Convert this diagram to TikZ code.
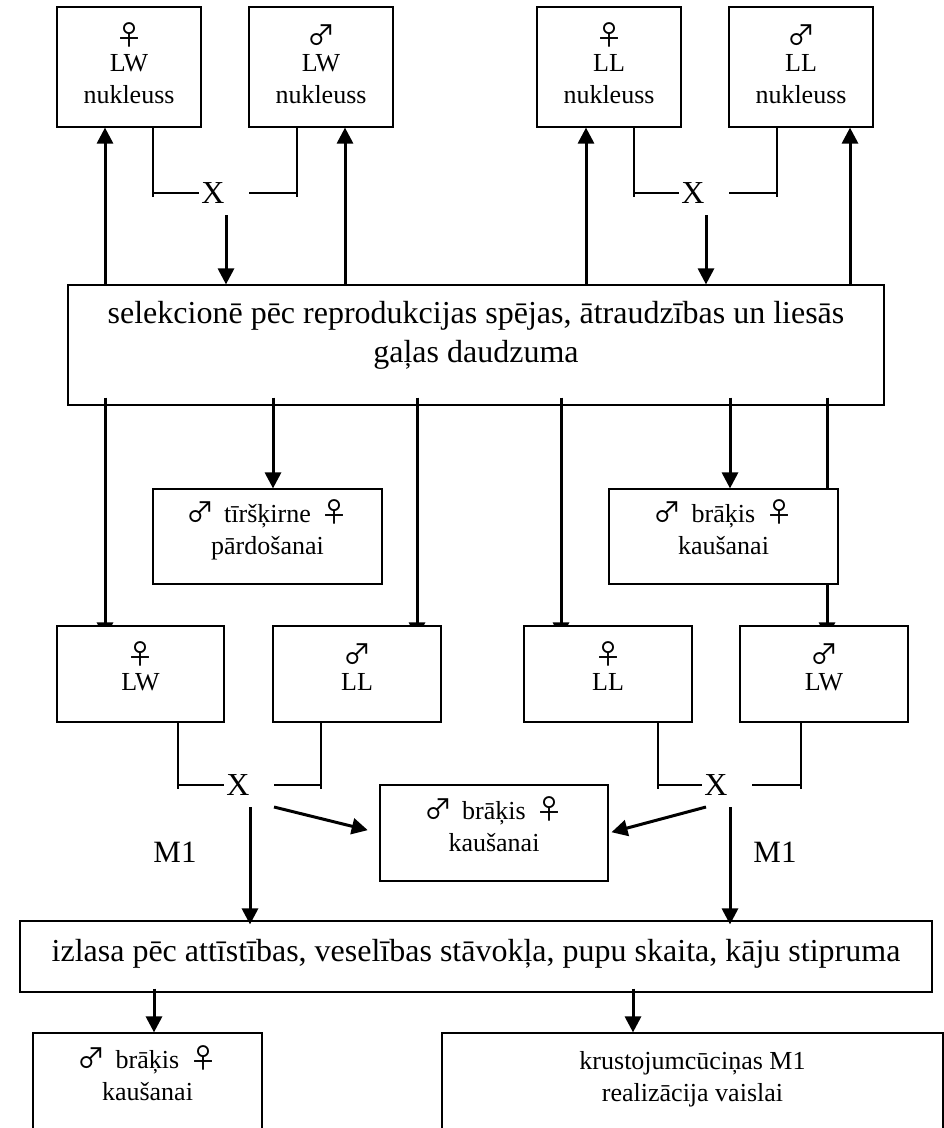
\documentclass[tikz,border=0pt]{standalone}
\usepackage{fontspec}
\setmainfont{Liberation Serif}
\newfontfamily\symfont{Noto Sans CJK SC}
\usetikzlibrary{arrows.meta,backgrounds,calc}

% gender signs and stacked, centred lines of box text
\newcommand{\fem}{{\symfont\fontsize{28}{28}\selectfont ♀}}
\newcommand{\mal}{{\symfont\fontsize{28}{28}\selectfont ♂}}
\newcommand{\femrow}{\raisebox{-6pt}{\fem}}
\newcommand{\malrow}{\raisebox{-6pt}{\mal}}
\newcommand{\gap}{\hspace{10pt}}
\newcommand{\stack}[1]{\begin{tabular}[t]{@{}c@{}}#1\end{tabular}}

\begin{document}
\begin{tikzpicture}[x=1pt,y=-1pt,
  box/.style={draw, line width=1.2pt, fill=white, inner sep=0pt},
  frame/.style={draw, line width=1.2pt, inner sep=0pt},
  wh/.style 2 args={minimum width=#1pt, minimum height=#2pt},
  txt/.style={inner sep=0pt, anchor=base, font=\fontsize{26}{32}\selectfont},
  bigtxt/.style={inner sep=0pt, anchor=base, font=\fontsize{32}{39}\selectfont},
  cross/.style={inner sep=2pt, font=\fontsize{32}{32}\selectfont},
  lbl/.style={inner sep=0pt, font=\fontsize{31}{31}\selectfont},
  link/.style={line width=1.2pt},
  arr/.style={line width=3pt, -{Triangle[length=16pt,width=16pt]}},
]
\path[use as bounding box, clip] (0,0) rectangle (944,1128);

% nucleus herds
\node[box, wh={144}{120}] (fLW) at (129,67) {};
\node[box, wh={144}{120}] (mLW) at (321,67) {};
\node[box, wh={144}{120}] (fLL) at (609,67) {};
\node[box, wh={144}{120}] (mLL) at (801,67) {};
\node[txt] (fLWt) at ($(fLW.north)+(0,33)$) {\stack{\femrow\\LW\\nukleuss}};
\node[txt] (mLWt) at ($(mLW.north)+(0,33)$) {\stack{\malrow\\LW\\nukleuss}};
\node[txt] (fLLt) at ($(fLL.north)+(0,33)$) {\stack{\femrow\\LL\\nukleuss}};
\node[txt] (mLLt) at ($(mLL.north)+(0,33)$) {\stack{\malrow\\LL\\nukleuss}};

\node[cross] (xA) at (213,193) {X};
\node[cross] (xB) at (693,193) {X};

% selection
\node[frame, wh={816}{120}] (sel) at (476,345) {};
\node[bigtxt] (selt) at ($(sel.north)+(0,39)$)
  {\stack{selekcionē pēc reprodukcijas spējas, ātraudzības un liesās\\gaļas daudzuma}};

\node[box, wh={229}{95}] (tir) at (267.5,536.5) {};
\node[txt] (tirt) at ($(tir.north)+(0,34)$) {\stack{\mal\gap tīršķirne\gap\fem\\pārdošanai}};
\node[box, wh={229}{95}] (bk1) at (723.5,536.5) {};
\node[txt] (bk1t) at ($(bk1.north)+(0,34)$) {\stack{\mal\gap brāķis\gap\fem\\kaušanai}};

% parent stock
\node[box, wh={167}{96}] (pLW) at (140.5,674) {};
\node[box, wh={168}{96}] (pLL) at (357,674) {};
\node[box, wh={168}{96}] (qLL) at (608,674) {};
\node[box, wh={168}{96}] (qLW) at (824,674) {};
\node[txt] (pLWt) at ($(pLW.north)+(0,33)$) {\stack{\femrow\\LW}};
\node[txt] (pLLt) at ($(pLL.north)+(0,33)$) {\stack{\malrow\\LL}};
\node[txt] (qLLt) at ($(qLL.north)+(0,33)$) {\stack{\femrow\\LL}};
\node[txt] (qLWt) at ($(qLW.north)+(0,33)$) {\stack{\malrow\\LW}};

\node[cross] (xC) at (238,785) {X};
\node[cross] (xD) at (716,785) {X};

\node[box, wh={228}{96}] (bk2) at (494,833) {};
\node[txt] (bk2t) at ($(bk2.north)+(0,35)$) {\stack{\mal\gap brāķis\gap\fem\\kaušanai}};

\node[lbl] (m1a) at (175,852) {M1};
\node[lbl] (m1b) at (775,852) {M1};

% final choice
\node[frame, wh={912}{71}] (izl) at (476,956.5) {};
\node[bigtxt] (izlt) at ($(izl.north)+(0,41)$)
  {izlasa pēc attīstības, veselības stāvokļa, pupu skaita, kāju stipruma};

\node[box, wh={229}{120}] (bkb) at (147.5,1093) {};
\node[txt] (bkbt) at ($(bkb.north)+(0,36)$) {\stack{\mal\gap brāķis\gap\fem\\kaušanai}};
\node[box, wh={501}{120}] (kru) at (692.5,1093) {};
\node[txt] (krut) at ($(kru.north)+(0,37)$) {\stack{krustojumcūciņas M1\\realizācija vaislai}};

\begin{scope}[on background layer]
  \fill[white] (0,0) rectangle (944,1128);

  % selected animals go back to the nucleus herds
  \coordinate (a1) at ($(fLW.south)+(-24,0)$);
  \coordinate (a2) at ($(mLW.south)+(24,0)$);
  \coordinate (a3) at ($(fLL.south)+(-23,0)$);
  \coordinate (a4) at ($(mLL.south)+(49,0)$);
  \foreach \c in {a1,a2,a3,a4} \draw[arr] (\c |- sel.north) -- (\c);

  % crossing within the nuclei
  \coordinate (k1) at ($(fLW.south)+(24,0)$);
  \coordinate (k2) at ($(mLW.south)+(-24,0)$);
  \coordinate (k3) at ($(fLL.south)+(25,0)$);
  \coordinate (k4) at ($(mLL.south)+(-24,0)$);
  \draw[link] (k1) -- ($(k1 |- xA)+(0,4)$);
  \draw[link] (k1 |- xA) -- (xA.west);
  \draw[link] (k2) -- ($(k2 |- xA)+(0,4)$);
  \draw[link] (k2 |- xA) -- ($(xA.east)+(22,0)$);
  \draw[link] (k3) -- ($(k3 |- xB)+(0,4)$);
  \draw[link] (k3 |- xB) -- (xB.west);
  \draw[link] (k4) -- ($(k4 |- xB)+(0,4)$);
  \draw[link] (k4 |- xB) -- ($(xB.east)+(22,0)$);
  \coordinate (xAo) at ($(xA)+(13,22)$);
  \coordinate (xBo) at ($(xB)+(13,22)$);
  \draw[arr] (xAo) -- (xAo |- sel.north);
  \draw[arr] (xBo) -- (xBo |- sel.north);

  % outputs of the selection
  \coordinate (d1) at ($(pLW.north)+(-35.5,0)$);
  \coordinate (d2) at ($(tir.north)+(5.5,0)$);
  \coordinate (d3) at ($(pLL.north)+(60,0)$);
  \coordinate (d4) at ($(qLL.north)+(-47,0)$);
  \coordinate (d5) at ($(bk1.north)+(6.5,0)$);
  \coordinate (d6) at ($(qLW.north)+(3,0)$);
  \foreach \c in {d1,d3,d4,d6}
    \draw[arr] ($(\c |- sel.south)+(0,-8)$) -- ($(\c)+(0,13)$);
  \foreach \c in {d2,d5}
    \draw[arr] ($(\c |- sel.south)+(0,-8)$) -- (\c);

  % crossing of the parent stock
  \coordinate (k5) at ($(pLW.south)+(37.5,0)$);
  \coordinate (k6) at ($(pLL.south)+(-36,0)$);
  \coordinate (k7) at ($(qLL.south)+(50,0)$);
  \coordinate (k8) at ($(qLW.south)+(-23,0)$);
  \draw[link] (k5) -- ($(k5 |- xC)+(0,4)$);
  \draw[link] (k5 |- xC) -- (xC.west);
  \draw[link] (k6) -- ($(k6 |- xC)+(0,4)$);
  \draw[link] (k6 |- xC) -- ($(xC.east)+(22,0)$);
  \draw[link] (k7) -- ($(k7 |- xD)+(0,4)$);
  \draw[link] (k7 |- xD) -- (xD.west);
  \draw[link] (k8) -- ($(k8 |- xD)+(0,4)$);
  \draw[link] (k8 |- xD) -- ($(xD.east)+(22,0)$);

  \coordinate (xCo) at ($(xC)+(12,22)$);
  \coordinate (xDo) at ($(xD)+(14,22)$);
  \draw[arr] (xCo) -- ($(xCo |- izl.north)+(0,4)$);
  \draw[arr] (xDo) -- ($(xDo |- izl.north)+(0,4)$);
  \coordinate (xCd) at ($(xC)+(36,22)$);
  \coordinate (xDd) at ($(xD)+(-10,22)$);
  \draw[arr, shorten >=12pt] (xCd) -- (bk2.west);
  \draw[arr, shorten >=3pt] (xDd) -- (bk2.east);

  % final destinations
  \coordinate (b1) at ($(bkb.north)+(6.5,0)$);
  \coordinate (b2) at ($(kru.north)+(-59.5,0)$);
  \foreach \c in {b1,b2}
    \draw[arr] ($(\c |- izl.south)+(0,-4)$) -- (\c);
\end{scope}
\end{tikzpicture}
\end{document}
